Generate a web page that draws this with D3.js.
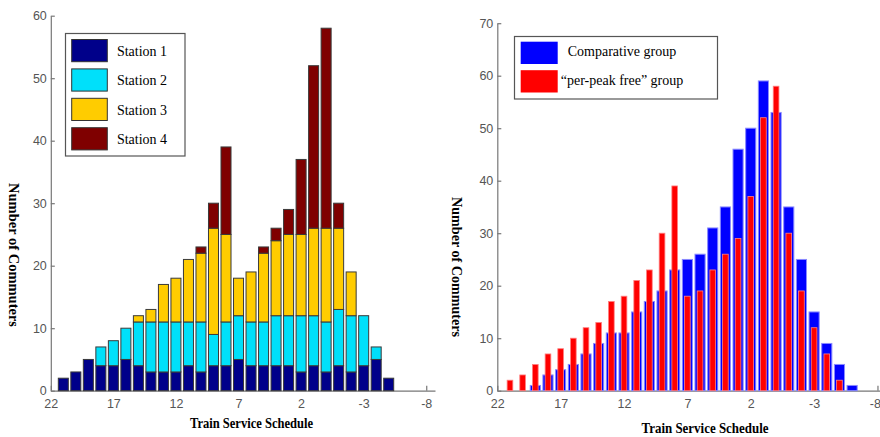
<!DOCTYPE html>
<html><head><meta charset="utf-8">
<script src="https://cdn.jsdelivr.net/npm/d3@7/dist/d3.min.js"></script>
<style>
html,body{margin:0;padding:0;background:#fff;}
svg{display:block;}
.tick text{font-family:"Liberation Sans",Arial,sans-serif;font-size:12.5px;fill:#555;}
.axis path,.axis line{stroke:#777;stroke-width:1.2;}
</style></head>
<body>
<svg id="chart" width="880" height="437"></svg>
<script>
// ---- data ----
const slots = [21,20,19,18,17,16,15,14,13,12,11,10,9,8,7,6,5,4,3,2,1,0,-1,-2,-3,-4,-5,-6];
const station1 = [2,3,5,4,4,5,4,3,3,3,4,3,4,4,5,4,4,4,4,3,4,3,4,3,4,5,2,0];
const station2 = [0,0,0,3,4,5,7,8,8,8,7,8,5,7,7,7,7,8,8,9,8,8,9,9,8,2,0,0];
const station3 = [0,0,0,0,0,0,1,2,6,7,10,11,17,14,6,8,11,12,13,13,14,15,13,7,0,0,0,0];
const station4 = [0,0,0,0,0,0,0,0,0,0,0,1,4,14,0,0,1,2,4,12,26,32,4,0,0,0,0,0];
const comparative = [0,0,1,3,4,5,7,9,11,11,15,17,19,23,25,26,31,35,46,50,59,53,35,25,15,9,5,1];
const perPeakFree = [2,3,5,7,8,10,12,13,17,18,21,23,30,39,18,19,23,26,29,37,52,58,30,19,12,7,2,0];
const xTicks = [22,17,12,7,2,-3,-8];
const yTicksLeft = [0,10,20,30,40,50,60];
const yTicksRight = [0,10,20,30,40,50,60,70];
const stationNames = ["Station 1","Station 2","Station 3","Station 4"];
const groupNames = ["Comparative group","\u201cper-peak free\u201d group"];
const xLabel = "Train Service Schedule";
const yLabel = "Number of Commuters";

const stationColors = ["#00008a","#00e0fa","#ffcc00","#7f0000"];
const groupColors = ["#0000ff","#ff0000"];

const svg = d3.select("#chart");

// ---- left chart ----
(function(){
  const x = d3.scaleLinear().domain([22,-8.7]).range([50.8,435]);
  const y = d3.scaleLinear().domain([0,60]).range([390.7,15.7]);
  const g = svg.append("g");
  g.append("g").attr("class","axis").attr("transform",`translate(0,${y(0)})`)
    .call(d3.axisBottom(x).tickValues(xTicks).tickFormat(d=>String(d)).tickSizeInner(-5).tickSizeOuter(0).tickPadding(8));
  g.append("g").attr("class","axis").attr("transform",`translate(${x(22)},0)`)
    .call(d3.axisLeft(y).tickValues(yTicksLeft).tickFormat(d=>String(d)).tickSizeInner(-4).tickSizeOuter(0).tickPadding(4));
  const keys = ["s1","s2","s3","s4"];
  const rows = slots.map((s,i)=>({slot:s,s1:station1[i],s2:station2[i],s3:station3[i],s4:station4[i]}));
  const stack = d3.stack().keys(keys)(rows);
  const bw = Math.abs(x(0.8)-x(0));
  stack.forEach((layer,k)=>{
    g.append("g").selectAll("rect").data(layer.filter(d=>d[1]-d[0]>0)).join("rect")
      .attr("x",d=>x(d.data.slot)-bw/2).attr("width",bw)
      .attr("y",d=>y(d[1])).attr("height",d=>y(d[0])-y(d[1]))
      .attr("fill",stationColors[k]).attr("stroke","#3a3a3a").attr("stroke-width",1);
  });
  // legend
  const lg = g.append("g");
  lg.append("rect").attr("x",65.5).attr("y",33.5).attr("width",119.5).attr("height",122.5)
    .attr("fill","#fff").attr("stroke","#555").attr("stroke-width",1.2);
  stationNames.forEach((n,i)=>{
    const yy = 39.5 + i*29.4;
    lg.append("rect").attr("x",71.7).attr("y",yy).attr("width",35.6).attr("height",22.2)
      .attr("fill",stationColors[i]).attr("stroke","#333").attr("stroke-width",1);
    lg.append("text").attr("x",142).attr("y",yy+11.5).attr("dy","0.35em").attr("text-anchor","middle")
      .style("font-family","'Liberation Serif','Times New Roman',serif").style("font-size","14px").text(n);
  });
  g.append("text").attr("transform","translate(14,255) rotate(90)").attr("text-anchor","middle").attr("dy","0.35em")
    .style("font-family","'Liberation Serif','Times New Roman',serif").style("font-weight","bold").style("font-size","14px")
    .attr("textLength",144).attr("lengthAdjust","spacingAndGlyphs").text(yLabel);
  g.append("text").attr("x",251.5).attr("y",423).attr("text-anchor","middle").attr("dy","0.35em")
    .style("font-family","'Liberation Serif','Times New Roman',serif").style("font-weight","bold").style("font-size","14px")
    .attr("textLength",123).attr("lengthAdjust","spacingAndGlyphs").text(xLabel);
})();

// ---- right chart ----
(function(){
  const x = d3.scaleLinear().domain([22,-8.2]).range([497.3,880]);
  const y = d3.scaleLinear().domain([0,70]).range([390.7,23.2]);
  const g = svg.append("g");
  const xa = g.append("g").attr("class","axis").attr("transform",`translate(0,${y(0)})`)
    .call(d3.axisBottom(x).tickValues(xTicks).tickFormat(d=>String(d)).tickSizeInner(-5).tickSizeOuter(0).tickPadding(8));
  // keep the last tick label inside the picture's right edge
  xa.selectAll(".tick").filter(d=>d===-8).select("text").attr("text-anchor","end").attr("x",3);
  g.append("g").attr("class","axis").attr("transform",`translate(${x(22)},0)`)
    .call(d3.axisLeft(y).tickValues(yTicksRight).tickFormat(d=>String(d)).tickSizeInner(-4).tickSizeOuter(0).tickPadding(4));
  const bwB = Math.abs(x(0.8)-x(0));
  const bwR = Math.abs(x(0.45)-x(0));
  const rows = slots.map((s,i)=>({slot:s,b:comparative[i],r:perPeakFree[i]}));
  g.append("g").selectAll("rect").data(rows.filter(d=>d.b>0)).join("rect")
    .attr("x",d=>x(d.slot)-bwB/2).attr("width",bwB)
    .attr("y",d=>y(d.b)).attr("height",d=>y(0)-y(d.b))
    .attr("fill",groupColors[0]).attr("stroke","#8a8aff").attr("stroke-width",1);
  g.append("g").selectAll("rect").data(rows.filter(d=>d.r>0)).join("rect")
    .attr("x",d=>x(d.slot)-bwR/2).attr("width",bwR)
    .attr("y",d=>y(d.r)).attr("height",d=>y(0)-y(d.r))
    .attr("fill",groupColors[1]).attr("stroke","#ff8080").attr("stroke-width",0.8);
  // legend
  const lg = g.append("g");
  lg.append("rect").attr("x",514.5).attr("y",36.5).attr("width",203).attr("height",62.5)
    .attr("fill","#fff").attr("stroke","#555").attr("stroke-width",1.2);
  groupNames.forEach((n,i)=>{
    const yy = 41.7 + i*28.5;
    lg.append("rect").attr("x",520.7).attr("y",yy).attr("width",37).attr("height",22.3)
      .attr("fill",groupColors[i]).attr("stroke","none");
    lg.append("text").attr("x",622).attr("y",yy+9.5).attr("dy","0.35em").attr("text-anchor","middle")
      .style("font-family","'Liberation Serif','Times New Roman',serif").style("font-size","14px").text(n);
  });
  g.append("text").attr("transform","translate(457,267) rotate(90)").attr("text-anchor","middle").attr("dy","0.35em")
    .style("font-family","'Liberation Serif','Times New Roman',serif").style("font-weight","bold").style("font-size","14px")
    .attr("textLength",140).attr("lengthAdjust","spacingAndGlyphs").text(yLabel);
  g.append("text").attr("x",705).attr("y",428.5).attr("text-anchor","middle").attr("dy","0.35em")
    .style("font-family","'Liberation Serif','Times New Roman',serif").style("font-weight","bold").style("font-size","14px")
    .attr("textLength",127).attr("lengthAdjust","spacingAndGlyphs").text(xLabel);
})();
</script>
</body></html>
